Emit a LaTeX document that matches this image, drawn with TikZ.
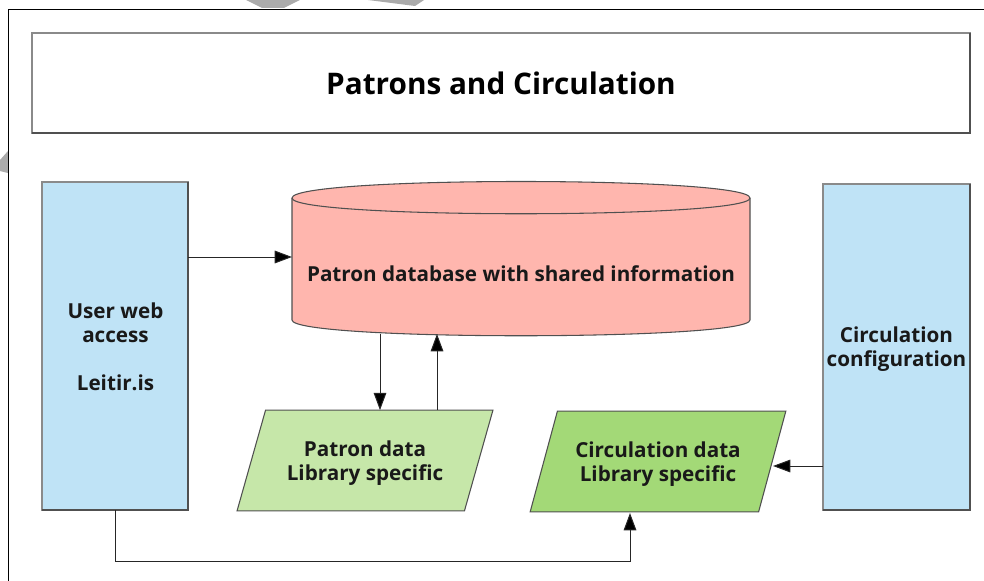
\documentclass[tikz,border=0pt]{standalone}
\usepackage{fontspec}
\setmainfont{Open Sans}
\usetikzlibrary{arrows.meta,shapes.geometric}
\definecolor{boxblue}{HTML}{BFE3F6}
\definecolor{dbred}{HTML}{FFB6AE}
\definecolor{palegreen}{HTML}{C6E7A9}
\definecolor{midgreen}{HTML}{A3D977}
\definecolor{edgegrey}{HTML}{505050}
\definecolor{litgrey}{HTML}{8A8A8A}
\definecolor{markgrey}{HTML}{ABABAB}
\tikzset{
  x=0.75pt,y=-0.75pt,
  every node/.style={inner sep=0pt,outer sep=0pt,align=center},
  label text/.style={font=\fontsize{15.5}{18}\selectfont\bfseries,text=black!90},
  boxnode/.style={draw=litgrey,line width=0.8pt,fill=boxblue,label text},
  shade edge/.style={draw=edgegrey,line width=0.8pt},
  datanode/.style={trapezium,trapezium left angle=66,trapezium right angle=114,trapezium stretches=true,
    draw=edgegrey,line width=0.8pt,minimum width=192pt,minimum height=75.5pt,label text},
  link/.style={draw=black!85,line width=0.75pt},
  tip/.style={-{Triangle[length=13pt,width=9.5pt,fill=black]}}
}
\begin{document}
\begin{tikzpicture}
\useasboundingbox (0,0) rectangle (984,581);
% watermark fragments
\fill[markgrey] (246,0) -- (300,0) -- (284,8) -- (262,8) -- cycle;
\fill[markgrey] (368,0) -- (424,0) -- (415,6) -- cycle;
\fill[markgrey] (0,160) -- (8,151) -- (8,173) -- (0,171) -- cycle;
% frame
\draw[black,line width=0.7pt] (8,581) -- (8,9) -- (984,9);
% title
\node[draw=litgrey,line width=0.8pt,minimum width=703.5pt,minimum height=75pt,
  font=\fontsize{22.3}{25}\selectfont\bfseries] (title) at (501,83) {Patrons and Circulation};
\draw[shade edge] (title.north east) -- (title.south east) -- (title.south west);
% side boxes
\node[boxnode,minimum width=109.5pt,minimum height=246pt,anchor=north west] (user) at (42,182) {};
\draw[shade edge] (user.north east) -- (user.south east) -- (user.south west);
\node[label text] (usertext) at (115.5,346.5) {User web\\access\\[18pt]Leitir.is};
\node[boxnode,minimum width=110.25pt,minimum height=244.5pt,anchor=north west] (config) at (823,184) {};
\draw[shade edge] (config.north east) -- (config.south east) -- (config.south west);
\node[label text] (configtext) at (896.5,349) {Circulation\\configuration};
% database
\filldraw[fill=dbred,draw=edgegrey,line width=0.8pt]
  (292,198) .. controls (292,176) and (750,176) .. (750,198)
  -- (750,320) .. controls (750,341) and (292,341) .. (292,320) -- cycle;
\draw[edgegrey,line width=0.8pt] (292,198) .. controls (292,219) and (750,219) .. (750,198);
\node[minimum width=343.5pt,minimum height=113pt] (db) at (521,259) {};
\node[label text] (dbtext) at (521,274) {Patron database with shared information};
% data
\node[datanode,fill=palegreen] (pdata) at (365,460.5) {\rule{0pt}{16pt}Patron data\\Library specific};
\node[datanode,fill=midgreen] (cdata) at (658,461.5) {\rule{0pt}{16pt}Circulation data\\Library specific};
% connectors
\coordinate (dbin) at (292,257);
\coordinate (cin) at (773,466);
\coordinate (via) at (115,561);
\coordinate (viab) at (630,561);
\draw[link,tip] (user.east |- dbin) -- (dbin);
\draw[link,tip] (380,334) -- (pdata.north -| 380,0);
\draw[link,tip] (pdata.north -| 437,0) -- (437,334);
\draw[link,tip] (config.west |- cin) -- (cin);
\draw[link,tip] (user.south) -- (via) -- (viab) -- (630,513);
\end{tikzpicture}
\end{document}
